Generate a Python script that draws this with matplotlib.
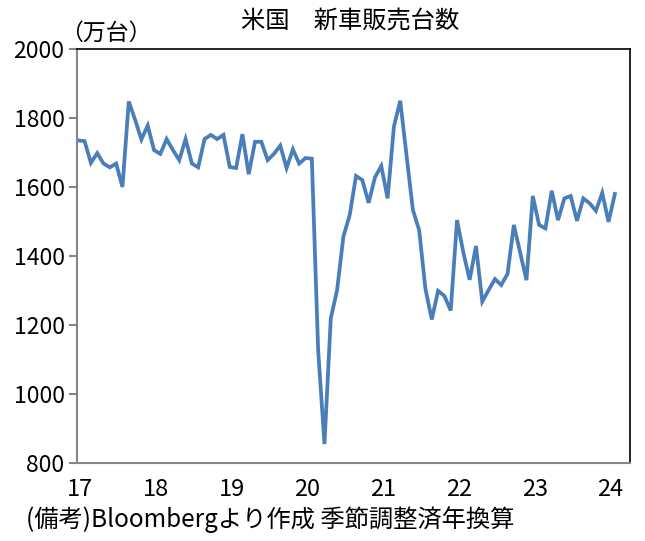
import numpy as np
import matplotlib.pyplot as plt

plt.rcParams['font.family'] = ['Noto Sans CJK JP', 'DejaVu Sans']

# 月次 2017/1 - 2024/2, 万台 (季節調整済年換算)
sales = [
    1735, 1733, 1670, 1698, 1668, 1657, 1668, 1600, 1848, 1795, 1738, 1778,  # 2017
    1707, 1696, 1739, 1707, 1678, 1739, 1668, 1657, 1739, 1751, 1739, 1751,  # 2018
    1658, 1655, 1753, 1637, 1731, 1731, 1678, 1696, 1720, 1655, 1709, 1668,  # 2019
    1684, 1682, 1127, 855, 1219, 1301, 1456, 1519, 1632, 1620, 1554, 1628,   # 2020
    1661, 1567, 1775, 1850, 1692, 1534, 1475, 1304, 1216, 1299, 1284, 1242,  # 2021
    1504, 1410, 1331, 1429, 1268, 1301, 1333, 1316, 1348, 1490, 1410, 1330,  # 2022
    1574, 1490, 1480, 1589, 1504, 1567, 1574, 1502, 1567, 1553, 1531, 1583,  # 2023
    1499, 1580,                                                              # 2024
]
year_labels = ['17', '18', '19', '20', '21', '22', '23', '24']
y_ticks = [800, 1000, 1200, 1400, 1600, 1800, 2000]

x = np.arange(len(sales))

fig = plt.figure(figsize=(6.45, 5.41), dpi=100)
ax = fig.add_axes([77 / 645, 1 - 463 / 541, (630 - 77) / 645, (463 - 49) / 541])

ax.plot(x, sales, color='#4a7ebb', linewidth=2.7, solid_joinstyle='miter')

ax.set_ylim(800, 2000)
ax.set_xlim(-0.2, 87.4)
ax.set_yticks(y_ticks)
ax.set_yticklabels([str(v) for v in y_ticks], fontsize=16.5)
ax.set_xticks(np.arange(0, 85, 12) + 0.3)
ax.set_xticklabels(year_labels, fontsize=17)

ax.tick_params(axis='y', length=6, width=1.5, color='#868686', pad=3)
ax.tick_params(axis='x', length=0, pad=11)
ax.spines['left'].set_color('#868686')
ax.spines['left'].set_linewidth(1.5)
ax.spines['bottom'].set_color('#868686')
ax.spines['bottom'].set_linewidth(1.5)
ax.spines['top'].set_color('black')
ax.spines['right'].set_color('black')
ax.spines['top'].set_linewidth(1.2)
ax.spines['right'].set_linewidth(1.2)

fig.text(350 / 645, 1 - 22 / 541, '米国　新車販売台数', ha='center', va='center', fontsize=17.5)
fig.text(60 / 645, 1 - 33 / 541, '（万台）', ha='left', va='center', fontsize=16.5)
fig.text(26 / 645, 1 - 520 / 541, '(備考)Bloombergより作成 季節調整済年換算', ha='left', va='center', fontsize=17.5)

fig.savefig('out.png', dpi=100)
